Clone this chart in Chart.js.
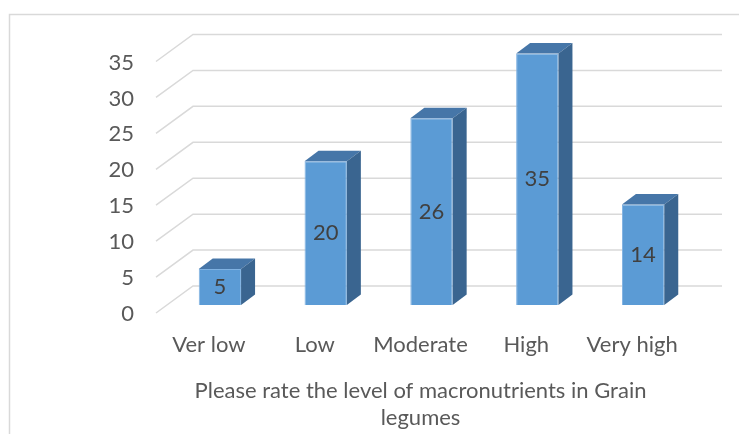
<!DOCTYPE html>
<html>
<head>
<meta charset="utf-8">
<script src="https://cdn.jsdelivr.net/npm/chart.js@4"></script>
<style>
  body { margin: 0; background: #fff; }
</style>
</head>
<body>
<canvas id="barChart" width="739" height="434"></canvas>
<script>
const categories = ['Ver low', 'Low', 'Moderate', 'High', 'Very high'];
const responses = [5, 20, 26, 35, 14];
const axisTitle = ['Please rate the level of macronutrients in Grain', 'legumes'];

const fontFamily = 'Lato, "Open Sans", sans-serif';
const fontSize = 22;
const textColor = '#595959';

// oblique depth offsets, relative to the bar fronts
const frontShift = { x: -11, y: 8 };
const wallShift = { x: 26, y: -19 };
const barDepth = { x: 14, y: -10.5 };

const frame = {
  id: 'frame',
  beforeDraw(chart) {
    const ctx = chart.ctx;
    ctx.save();
    ctx.strokeStyle = '#d9d9d9';
    ctx.lineWidth = 1.5;
    ctx.beginPath();
    ctx.moveTo(9.5, chart.height);
    ctx.lineTo(9.5, 14.5);
    ctx.lineTo(chart.width, 14.5);
    ctx.stroke();
    ctx.restore();
  }
};

// back wall gridlines + side wall diagonals
const walls = {
  id: 'walls',
  beforeDatasetsDraw(chart) {
    const { ctx, chartArea, scales } = chart;
    ctx.save();
    ctx.strokeStyle = '#d9d9d9';
    ctx.lineWidth = 1.5;
    scales.y.ticks.forEach(t => {
      const y = scales.y.getPixelForValue(t.value);
      ctx.beginPath();
      ctx.moveTo(chartArea.left + frontShift.x, y + frontShift.y);
      ctx.lineTo(chartArea.left + wallShift.x, y + wallShift.y);
      ctx.lineTo(chartArea.right + wallShift.x, y + wallShift.y);
      ctx.stroke();
    });
    ctx.restore();
  }
};

// top and side faces for each bar, then the value in the front face
const bars3d = {
  id: 'bars3d',
  afterDatasetsDraw(chart) {
    const ctx = chart.ctx;
    const meta = chart.getDatasetMeta(0);
    ctx.save();
    meta.data.forEach((bar, i) => {
      const { x, y, base, width } = bar.getProps(['x', 'y', 'base', 'width'], true);
      const l = x - width / 2, r = x + width / 2;

      ctx.fillStyle = '#4676a8';
      ctx.beginPath();
      ctx.moveTo(l, y);
      ctx.lineTo(r, y);
      ctx.lineTo(r + barDepth.x, y + barDepth.y);
      ctx.lineTo(l + barDepth.x, y + barDepth.y);
      ctx.closePath();
      ctx.fill();

      ctx.fillStyle = '#3a6590';
      ctx.beginPath();
      ctx.moveTo(r, y);
      ctx.lineTo(r + barDepth.x, y + barDepth.y);
      ctx.lineTo(r + barDepth.x, base + barDepth.y);
      ctx.lineTo(r, base);
      ctx.closePath();
      ctx.fill();

      ctx.fillStyle = '#404040';
      ctx.font = fontSize + 'px ' + fontFamily;
      ctx.textAlign = 'center';
      ctx.textBaseline = 'middle';
      ctx.fillText(String(responses[i]), x, (y + base) / 2);
    });
    ctx.restore();
  }
};

// axis title, centred on the front edge of the floor
const frontTitle = {
  id: 'frontTitle',
  afterDraw(chart) {
    const { ctx, scales } = chart;
    const x = (scales.x.left + scales.x.right) / 2 + frontShift.x;
    const lineHeight = fontSize * 1.25;
    ctx.save();
    ctx.fillStyle = textColor;
    ctx.font = fontSize + 'px ' + fontFamily;
    ctx.textAlign = 'center';
    ctx.textBaseline = 'middle';
    axisTitle.forEach((line, i) => {
      const y = scales.x.bottom - 2 - lineHeight / 2 - lineHeight * (axisTitle.length - 1 - i);
      ctx.fillText(line, x, y);
    });
    ctx.restore();
  }
};

new Chart(document.getElementById('barChart'), {
  type: 'bar',
  data: {
    labels: categories,
    datasets: [{
      data: responses,
      backgroundColor: '#5b9bd5',
      borderColor: '#80b2e2',
      borderWidth: 1,
      categoryPercentage: 1,
      barPercentage: 0.4
    }]
  },
  options: {
    responsive: false,
    animation: false,
    layout: { padding: { left: 0, top: 53.5, right: 43, bottom: 0 } },
    plugins: {
      legend: { display: false },
      tooltip: { enabled: false }
    },
    scales: {
      x: {
        grid: { display: false },
        border: { display: false },
        ticks: {
          font: { family: fontFamily, size: fontSize },
          color: textColor,
          labelOffset: frontShift.x,
          padding: 19
        },
        afterFit: scale => { scale.height = 434 - 305; }
      },
      y: {
        min: 0,
        max: 35,
        grid: { display: false },
        border: { display: false },
        ticks: {
          stepSize: 5,
          font: { family: fontFamily, size: fontSize },
          color: textColor,
          padding: 25,
          labelOffset: 9
        },
        afterFit: scale => { scale.width = 167; }
      }
    }
  },
  plugins: [frame, walls, bars3d, frontTitle]
});
</script>
</body>
</html>
